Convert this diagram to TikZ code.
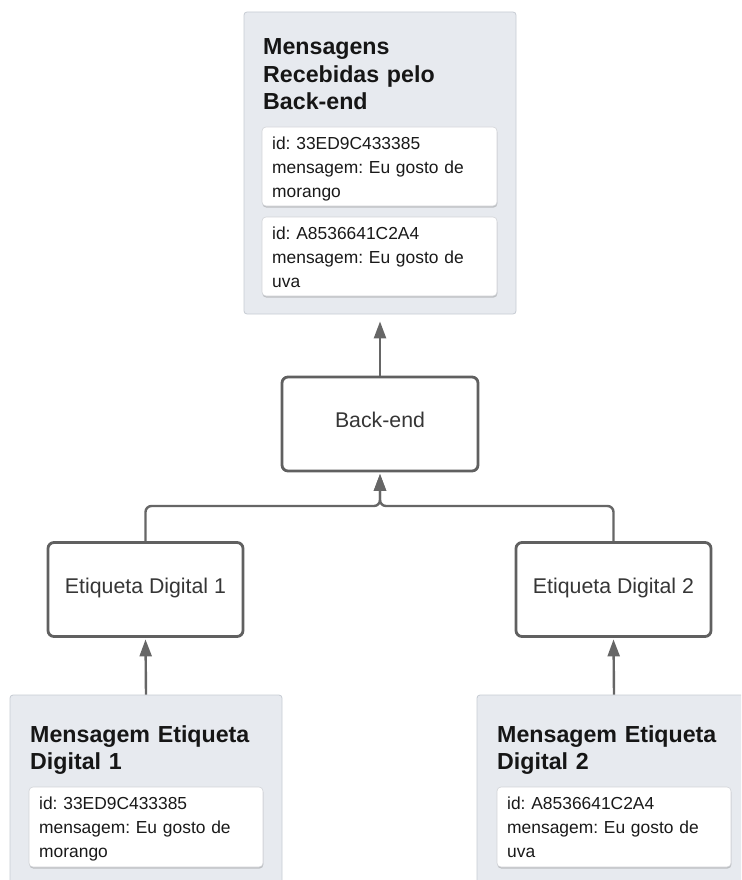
\documentclass[tikz,border=0pt]{standalone}
\usepackage{fontspec}
\setmainfont{Liberation Sans}
\usetikzlibrary{arrows.meta,shadows}
\frenchspacing

\definecolor{panelfill}{HTML}{E7EAEF}
\definecolor{paneledge}{HTML}{C6CBD3}
\definecolor{boxedge}{HTML}{606060}
\definecolor{linkcol}{HTML}{666666}
\definecolor{labelcol}{HTML}{363636}
\definecolor{cardedge}{HTML}{D2D4D8}
\definecolor{titlecol}{HTML}{161616}

\begin{document}
\begin{tikzpicture}[x=1pt,y=-1pt,
  panel/.style={draw=paneledge, fill=panelfill, line width=0.8pt,
    rounded corners=3pt, inner sep=0pt},
  card/.style={draw=cardedge, fill=white, line width=0.6pt,
    rounded corners=4pt, inner sep=0pt,
    drop shadow={shadow xshift=0.4pt, shadow yshift=-1.6pt, opacity=0.28, fill=black!70}},
  procbox/.style={draw=boxedge, fill=white, line width=2.8pt,
    rounded corners=6pt, minimum width=195pt, minimum height=94pt,
    text=labelcol, text height=15pt, text depth=7.5pt, inner sep=0pt,
    font=\fontsize{21.3}{25}\selectfont},
  paneltitle/.style={anchor=base west, inner sep=0pt, text width=250pt,
    align=left, text=titlecol, font=\fontsize{23.2}{27.5}\selectfont\bfseries},
  cardtext/.style={anchor=base west, inner sep=0pt, text width=220pt,
    align=left, text=black!90, font=\fontsize{17.4}{24}\selectfont\frenchspacing},
  link/.style={draw=linkcol, line width=2.4pt,
    -{Triangle[length=17pt,width=12pt]}, rounded corners=6pt}]

\useasboundingbox (0,0) rectangle (741,880);
\clip (0,0) rectangle (741,880);

% panel with the messages received by the back-end
\node[panel, minimum width=272pt, minimum height=302pt] (recv) at (380,163) {};
\node[paneltitle] (recvtitle) at (263,55) {Mensagens\\Recebidas pelo\\Back-end};
\node[card, minimum width=235pt, minimum height=79pt] (recvA) at (379.5,166.5) {};
\node[cardtext] (recvAtext) at (272,149.5) {id: 33ED9C433385\\mensagem: Eu gosto de\\morango};
\node[card, minimum width=235pt, minimum height=79pt] (recvB) at (379.5,256.5) {};
\node[cardtext] (recvBtext) at (272,239.5) {id: A8536641C2A4\\mensagem: Eu gosto de\\uva};

% processing boxes
\node[procbox, minimum width=196pt] (backend) at (380,424) {Back-end};
\node[procbox] (tagone) at (145.5,589.5) {Etiqueta Digital 1};
\node[procbox] (tagtwo) at (613.5,589.5) {Etiqueta Digital 2};

% panels with the message of each digital tag
\node[panel, minimum width=272pt, minimum height=210pt] (msgone) at (146,800) {};
\node[paneltitle] (msgonetitle) at (30,742) {Mensagem Etiqueta\\Digital 1};
\node[card, minimum width=234pt, minimum height=80pt] (msgonecard) at (146,827) {};
\node[cardtext] (msgonetext) at (39,809.5) {id: 33ED9C433385\\mensagem: Eu gosto de\\morango};

\node[panel, minimum width=274pt, minimum height=210pt] (msgtwo) at (614,800) {};
\node[paneltitle] (msgtwotitle) at (497,742) {Mensagem Etiqueta\\Digital 2};
\node[card, minimum width=234pt, minimum height=80pt] (msgtwocard) at (614,827) {};
\node[cardtext] (msgtwotext) at (507,809.5) {id: A8536641C2A4\\mensagem: Eu gosto de\\uva};

% connectors
\coordinate (merge) at (380,506);
\draw[link, shorten >=7pt] (backend.north) -- (recv.south);
\draw[link, shorten >=1.5pt] (tagone.north) |- (merge) -- (backend.south);
\draw[link, shorten >=1.5pt] (tagtwo.north) |- (merge) -- (backend.south);
\draw[link, shorten >=1.5pt] (msgone.north) -- (tagone.south);
\draw[link, shorten >=1.5pt] (msgtwo.north) -- (tagtwo.south);

\end{tikzpicture}
\end{document}
